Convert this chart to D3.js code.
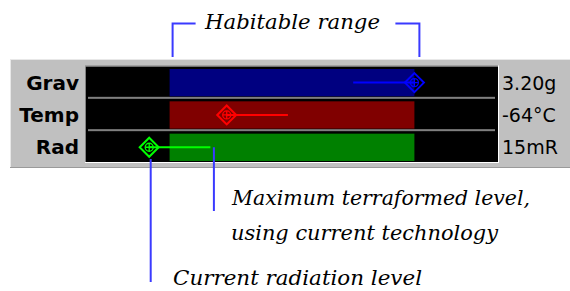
<!DOCTYPE html>
<html lang="en">
<head>
<meta charset="UTF-8">
<title>Habitability</title>
<script src="https://cdn.jsdelivr.net/npm/d3@7"></script>
<style>
  body { margin: 0; background: #fff; }
  svg { display: block; }
  .lbl { font-family: "DejaVu Sans", sans-serif; font-size: 19px; fill: #000; }
  .cat { font-size: 20px; font-weight: bold; }
  .note { font-family: "DejaVu Serif", serif; font-style: italic; font-size: 19.5px; fill: #000; }
</style>
</head>
<body>
<div id="chart"></div>
<script>
// values are in "clicks" on a 0-100 scale
const categories = ["Grav", "Temp", "Rad"];
const habLow = [20, 20, 20];
const habHigh = [80, 80, 80];
const currentVals = [80, 34, 15];
const terraformVals = [65, 49, 30];
const valueLabels = ["3.20g", "-64\u00b0C", "15mR"];

const barColors = ["#000080", "#800000", "#008000"];
const markColors = ["#0000ff", "#ff0000", "#00ff00"];
const noteColor = "#3a3aff";

const W = 570, H = 291;
const svg = d3.select("#chart").append("svg")
    .attr("width", W)
    .attr("height", H);

// panel
svg.append("rect").attr("x", 10).attr("y", 59).attr("width", 560).attr("height", 109).attr("fill", "#c0c0c0");
svg.append("line").attr("x1", 10).attr("x2", 570).attr("y1", 59.5).attr("y2", 59.5).attr("stroke", "#e8e8e8");
svg.append("line").attr("x1", 10.5).attr("x2", 10.5).attr("y1", 59).attr("y2", 168).attr("stroke", "#e8e8e8");
svg.append("line").attr("x1", 10).attr("x2", 570).attr("y1", 167.5).attr("y2", 167.5).attr("stroke", "#9a9a9a");

// black box
const box = { x0: 86, x1: 498, y0: 66.5, y1: 162 };
svg.append("rect").attr("x", box.x0).attr("y", box.y0)
    .attr("width", box.x1 - box.x0).attr("height", box.y1 - box.y0).attr("fill", "#000");
svg.append("line").attr("x1", box.x0 - 1).attr("x2", box.x1).attr("y1", box.y0 - 0.5).attr("y2", box.y0 - 0.5).attr("stroke", "#808080");
svg.append("line").attr("x1", box.x0 - 0.5).attr("x2", box.x0 - 0.5).attr("y1", box.y0).attr("y2", box.y1).attr("stroke", "#808080");
svg.append("line").attr("x1", box.x0 - 1).attr("x2", box.x1 + 1).attr("y1", box.y1 + 0.5).attr("y2", box.y1 + 0.5).attr("stroke", "#fff");
svg.append("line").attr("x1", box.x1 + 0.5).attr("x2", box.x1 + 0.5).attr("y1", box.y0 - 1).attr("y2", box.y1 + 1).attr("stroke", "#fff");

const x = d3.scaleLinear().domain([0, 100]).range([88, 496]);
const y = d3.scaleBand().domain(categories).range([67.5, 164.5]);
const bw = y.bandwidth();

const rows = categories.map((c, i) => ({
    cat: c, lo: habLow[i], hi: habHigh[i], cur: currentVals[i], tf: terraformVals[i],
    label: valueLabels[i], bar: barColors[i], mark: markColors[i]
}));

const g = svg.append("g");

// separators between rows
g.selectAll(".sep")
    .data(categories.slice(0, -1))
    .enter().append("rect")
    .attr("x", box.x0 + 2)
    .attr("width", box.x1 - box.x0 - 5)
    .attr("y", d => y(d) + bw - 3)
    .attr("height", 2)
    .attr("fill", "#808080");

// habitable bars
g.selectAll(".bar")
    .data(rows)
    .enter().append("rect")
    .attr("x", d => x(d.lo))
    .attr("width", d => x(d.hi) - x(d.lo))
    .attr("y", d => y(d.cat) + 1.5)
    .attr("height", Math.min(bw - 5, 27.3))
    .attr("fill", d => d.bar);

const cy = d => y(d.cat) + 1.5 + 13.6;

// terraform lines
g.selectAll(".tf")
    .data(rows)
    .enter().append("line")
    .attr("x1", d => x(d.cur))
    .attr("x2", d => x(d.tf))
    .attr("y1", cy).attr("y2", cy)
    .attr("stroke", d => d.mark)
    .attr("stroke-width", 2);

// current value diamonds
const mk = g.selectAll(".mk")
    .data(rows)
    .enter().append("g")
    .attr("transform", d => `translate(${x(d.cur)},${cy(d)})`);
mk.append("path")
    .attr("d", "M0,-9.5 L9.5,0 L0,9.5 L-9.5,0 Z")
    .attr("fill", "none")
    .attr("stroke", d => d.mark)
    .attr("stroke-width", 2);
mk.append("circle")
    .attr("r", 4)
    .attr("fill", "none")
    .attr("stroke", d => d.mark)
    .attr("stroke-width", 1.3);
mk.append("path")
    .attr("d", "M-4,0 H4 M0,-4 V4")
    .attr("stroke", d => d.mark)
    .attr("stroke-width", 1.3);

// labels
svg.selectAll(".catlbl")
    .data(rows)
    .enter().append("text")
    .attr("class", "lbl cat")
    .attr("x", 79)
    .attr("y", d => cy(d) + 7)
    .attr("text-anchor", "end")
    .text(d => d.cat);

svg.selectAll(".val")
    .data(rows)
    .enter().append("text")
    .attr("class", "lbl")
    .attr("x", 502)
    .attr("y", d => cy(d) + 7)
    .text(d => d.label);

// habitable range bracket
const hx0 = x(habLow[0]) + 3, hx1 = x(habHigh[0]) + 5;
svg.append("path")
    .attr("d", `M${hx0},57 V23.5 H${hx0 + 23}`)
    .attr("fill", "none").attr("stroke", noteColor).attr("stroke-width", 2);
svg.append("path")
    .attr("d", `M${hx1 - 24},23.5 H${hx1} V57`)
    .attr("fill", "none").attr("stroke", noteColor).attr("stroke-width", 2);
svg.append("text").attr("class", "note")
    .attr("x", 205).attr("y", 29)
    .attr("textLength", 175).attr("lengthAdjust", "spacingAndGlyphs")
    .text("Habitable range");

// annotation lines
const radRow = rows[2];
svg.append("line")
    .attr("x1", x(radRow.tf) + 3.5).attr("x2", x(radRow.tf) + 3.5)
    .attr("y1", cy(radRow)).attr("y2", 211)
    .attr("stroke", noteColor).attr("stroke-width", 2);
svg.append("line")
    .attr("x1", x(radRow.cur) + 1.5).attr("x2", x(radRow.cur) + 1.5)
    .attr("y1", 159).attr("y2", 282)
    .attr("stroke", noteColor).attr("stroke-width", 2);

svg.append("text").attr("class", "note")
    .attr("x", 232).attr("y", 205)
    .attr("textLength", 298).attr("lengthAdjust", "spacingAndGlyphs")
    .text("Maximum terraformed level,");
svg.append("text").attr("class", "note")
    .attr("x", 231).attr("y", 240)
    .attr("textLength", 267).attr("lengthAdjust", "spacingAndGlyphs")
    .text("using current technology");
svg.append("text").attr("class", "note")
    .attr("x", 173).attr("y", 285)
    .attr("textLength", 249).attr("lengthAdjust", "spacingAndGlyphs")
    .text("Current radiation level");
</script>
</body>
</html>
